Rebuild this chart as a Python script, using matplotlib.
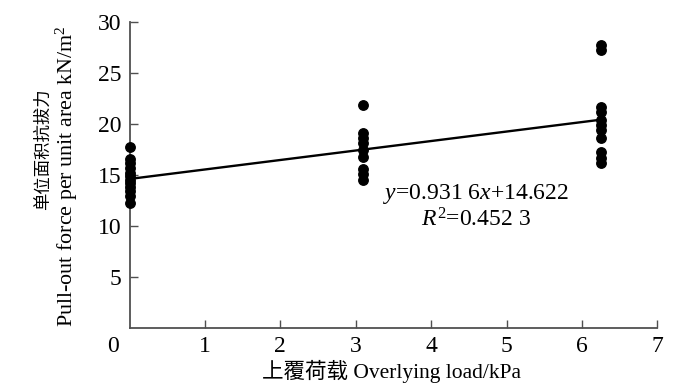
import matplotlib
matplotlib.use("Agg")
import matplotlib.pyplot as plt
import numpy as np

plt.rcParams['font.family'] = ['Liberation Serif', 'Noto Sans CJK SC']
plt.rcParams['mathtext.fontset'] = 'custom'
plt.rcParams['mathtext.rm'] = 'Liberation Serif'
plt.rcParams['mathtext.it'] = 'Liberation Serif:italic'

# overlying load (kPa) for each measurement group
load_a = [0.0] * 12
force_a = [17.8, 16.6, 16.2, 15.7, 15.2, 14.9, 14.5, 14.2, 13.8, 13.4, 12.9, 12.3]
load_b = [3.1] * 9
force_b = [21.9, 19.1, 18.65, 18.2, 17.5, 16.8, 15.6, 15.1, 14.5]
load_c = [6.25] * 11
force_c = [27.8, 27.3, 21.7, 21.2, 20.4, 19.9, 19.4, 18.6, 17.3, 16.7, 16.2]

slope = 0.9316
intercept = 14.622
fit_x = [0.0, 6.25]

x_ticks = [1, 2, 3, 4, 5, 6, 7]
y_ticks = [5, 10, 15, 20, 25, 30]

fig = plt.figure(figsize=(7.0, 3.87), dpi=100)
ax = fig.add_axes([0.185, 0.153, 0.754, 0.789])

x_all = np.array(load_a + load_b + load_c)
y_all = np.array(force_a + force_b + force_c)
ax.plot(x_all, y_all, 'o', color='black', markersize=6.8, zorder=3, clip_on=False)

fx = np.array(fit_x)
ax.plot(fx, slope * fx + intercept, '-', color='black', lw=1.7, zorder=2)

ax.set_xlim(0, 7)
ax.set_ylim(0, 30)
ax.set_xticks(x_ticks)
ax.set_yticks(y_ticks)
ax.spines['top'].set_visible(False)
ax.spines['right'].set_visible(False)
for s in ['left', 'bottom']:
    ax.spines[s].set_color('#505050')
    ax.spines[s].set_linewidth(1.3)
ax.tick_params(direction='in', length=5.5, width=1.0, color='#505050',
               labelsize=17, pad=6)
ax.tick_params(axis='x', pad=6)

fig.text(113 / 700, 1 - 347 / 387, '0', fontsize=17, ha='center', va='center')

ax.text(4.6, 13.1, r'$y$=0.931 6$x$+14.622', fontsize=17, ha='center', va='center')
ax.text(4.6, 10.6, r'$R^2$=0.452 3', fontsize=17, ha='center', va='center')

fig.text(391 / 700, 1 - 371 / 387, '上覆荷载 Overlying load/kPa', fontsize=15.5,
         ha='center', va='center')
fig.text(44 / 700, 1 - 149 / 387, '单位面积抗拔力', fontsize=12.5, rotation=90,
         ha='center', va='center')
fig.text(67 / 700, 1 - 176 / 387, r'Pull-out force per unit area kN/m$^2$',
         fontsize=15.8, rotation=90, ha='center', va='center')

fig.savefig('out.png', dpi=100)
